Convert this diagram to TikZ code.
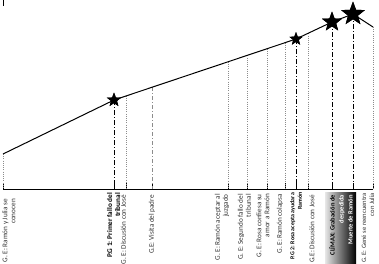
\documentclass[tikz,border=0pt]{standalone}
\usepackage{fontspec}
\setmainfont{Carlito}
\usetikzlibrary{shapes.geometric}
\begin{document}
\begin{tikzpicture}[x=1pt,y=-1pt,
 curve/.style={line width=1pt},
 axisline/.style={line width=0.9pt},
 tickline/.style={line width=0.6pt},
 keyline/.style={line width=0.9pt, dash pattern=on 5pt off 2pt on 1pt off 2pt},
 minorline/.style={black!45, line width=0.4pt, dash pattern=on 1pt off 1.2pt},
 semiline/.style={black!45, line width=0.5pt, dash pattern=on 4pt off 2pt on 1pt off 2pt},
 starn/.style={star, star points=5, star point ratio=2.4, fill=black, draw=none, inner sep=0pt},
 lab/.style={rotate=90, anchor=east, align=right, font=\fontsize{7.2}{8}\selectfont, text=black!80, inner sep=0pt},
 blab/.style={lab, font=\fontsize{7.2}{8}\selectfont\bfseries, text=black},
 climax/.style={left color=black!10, right color=black, draw=none, inner sep=0pt, anchor=north west}]
\useasboundingbox (0,0) rectangle (379,263);
% top-left mark
\coordinate (m0) at (3,0);
\coordinate (m1) at (3,6);
\draw[line width=0.6pt] (m0) -- (m1);
% curve points
\coordinate (p0) at (3,154);
\coordinate (p2) at (126,96);
\coordinate (p3) at (152,87.3);
\coordinate (p4) at (228,61.8);
\coordinate (p5) at (247,55.4);
\coordinate (p6) at (267,48.7);
\coordinate (p7) at (285,42.7);
\coordinate (p9) at (308,33.3);
\coordinate (pe) at (373,27);
% axis
\coordinate (axl) at (3,189);
\coordinate (axr) at (373,189);
\draw[axisline] (axl) -- (axr);
% stars
\node[starn, minimum size=15pt] (s1) at (114,100) {};
\node[starn, minimum size=14pt] (s2) at (296,39) {};
\node[starn, minimum size=21pt] (s3) at (332,22) {};
\node[starn, minimum size=25pt] (s4) at (353,14) {};
% axis points
\foreach \n/\x in {a0/3,a1/114,a2/126,a3/152,a4/228,a5/247,a6/267,a7/285,a8/296,a9/308,a10/332,a11/353,a12/373}{
  \coordinate (\n) at (\x,189);
  \coordinate (t\n) at (\x,183);
  \draw[tickline] (t\n) -- (\n);
}
% verticals
\draw[minorline] (p0) -- (a0);
\draw[keyline] (s1.center) -- (a1);
\draw[minorline] (p2) -- (a2);
\draw[semiline] (p3) -- (a3);
\draw[minorline] (p4) -- (a4);
\draw[minorline] (p5) -- (a5);
\draw[minorline] (p6) -- (a6);
\draw[minorline] (p7) -- (a7);
\draw[keyline] (s2.center) -- (a8);
\draw[minorline] (p9) -- (a9);
\draw[keyline] (s3.center) -- (a10);
\draw[keyline] (s4.center) -- (a11);
\draw[minorline] (pe) -- (a12);
% curve
\draw[curve] (p0) -- (s1.center) -- (s2.center) -- (s3.center) -- (s4.center) -- (pe);
\node[starn, minimum size=15pt] at (s1) {};
\node[starn, minimum size=14pt] at (s2) {};
\node[starn, minimum size=21pt] at (s3) {};
\node[starn, minimum size=25pt] at (s4) {};
% labels
\node[lab] (l0) at (9,199) {G. E: Ramón y Julia se\\conocen};
\node[blab] (l1) at (113.5,193) {P.G 1: Primer fallo del\\tribunal};
\node[lab] (l2) at (123.5,195) {G. E: Discusión con José};
\node[lab] (l3) at (152,195) {G.E: Visita del padre};
\node[lab] (l4) at (222,194) {G. E: Ramón aceptar al\\juzgado};
\node[lab] (l5) at (244.5,194) {G. E: Segundo fallo del\\tribunal};
\node[lab] (l6) at (263,194) {G. E: Rosa confiesa su\\amor a Ramón};
\node[lab] (l7) at (280,194) {G. E: Ramón colapsa};
\node[blab, font=\fontsize{5.9}{7.5}\selectfont\bfseries] (l8) at (296,192) {P.G 2: Rosa acepta ayudar a\\Ramón};
\node[lab] (l9) at (312,195) {G.E: Discusión con José};
\node[climax, minimum width=31pt, minimum height=72pt] (cb) at (325,192) {};
\node[blab, font=\fontsize{6.5}{9}\selectfont\bfseries] (cl) at (341,195) {CLÍMAX: Grabación de\\\textcolor{white}{despedida}\\\textcolor{white}{Muerte de Ramón}};
\node[lab, font=\fontsize{6.6}{8}\selectfont] (l12) at (368,193) {G. E: Gené se reencuentra\\con Julia};
\end{tikzpicture}
\end{document}
